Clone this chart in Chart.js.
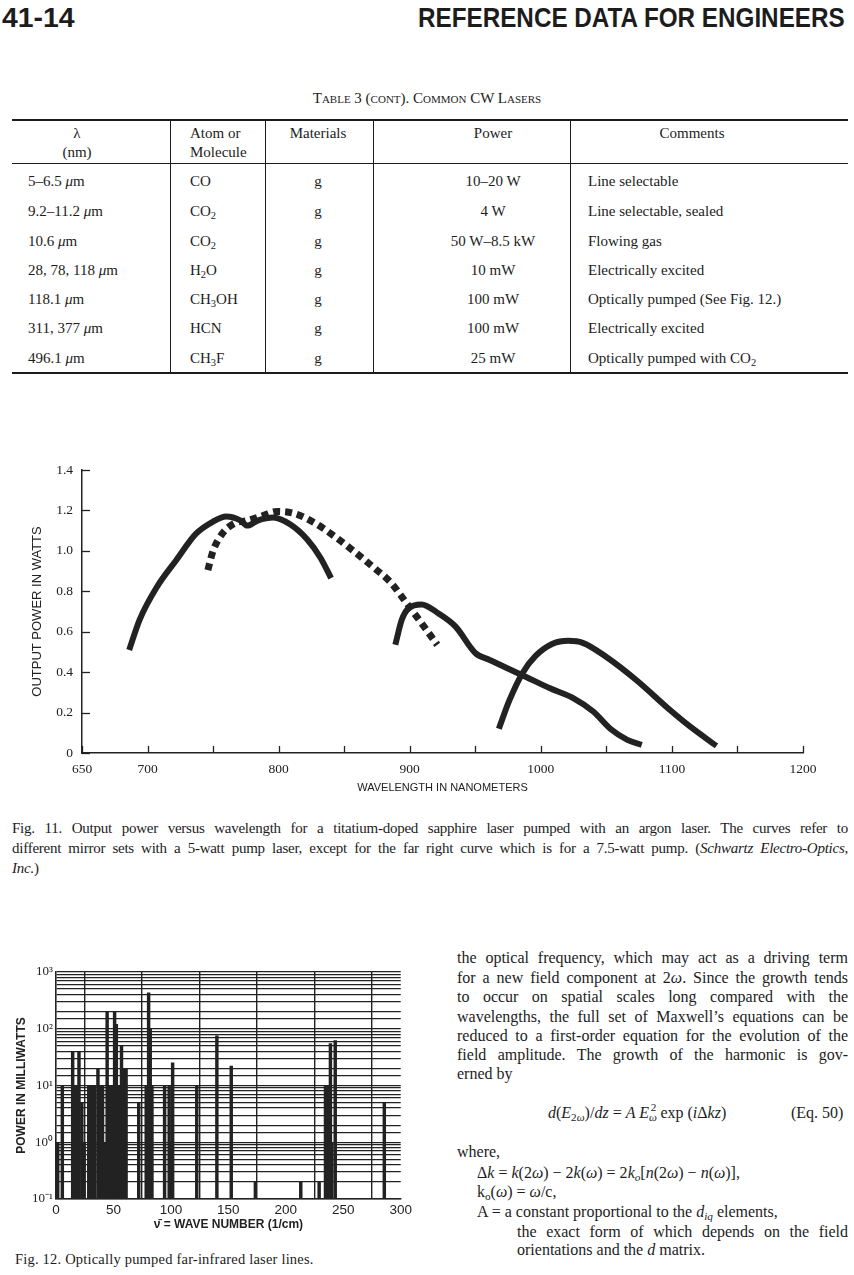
<!DOCTYPE html>
<html>
<head>
<meta charset="utf-8">
<script src="https://cdn.jsdelivr.net/npm/chart.js@4.4.0/dist/chart.umd.min.js"></script>
<style>
  html, body { margin: 0; padding: 0; background: #fff; }
  body { width: 854px; height: 1275px; position: relative; overflow: hidden; color: #1c1c1c; font-family: "Liberation Serif", "DejaVu Serif", serif; }
  .a { position: absolute; white-space: nowrap; }
  .hd { font-family: "Liberation Sans", Arial, sans-serif; font-weight: bold; font-size: 28px; line-height: 28px; top: 4px; }
  .rule { position: absolute; background: #1c1c1c; }
  .cell { position: absolute; font-size: 15px; line-height: 18px; white-space: nowrap; }
  .c { transform: translateX(-50%); }
  sub { font-size: 70%; line-height: 0; vertical-align: -0.3em; }
  .cap { position: absolute; left: 12px; width: 836px; font-size: 15px; letter-spacing: -0.25px; line-height: 20px; }
  .j { text-align: justify; text-align-last: justify; }
  .txt { position: absolute; left: 457px; width: 391px; font-size: 16px; line-height: 20px; white-space: nowrap; }
  .box { position: absolute; }
</style>
</head>
<body>

<div class="a hd" id="pg" style="left:2px;">41-14</div>
<div class="a hd" id="ttl" style="left:418px;">REFERENCE DATA FOR ENGINEERS</div>

<div class="a" style="left:0;width:854px;text-align:center;top:90px;font-size:15px;font-variant:small-caps;">Table 3 (cont). Common CW Lasers</div>

<div id="table"></div>

<div class="box" style="left:30px;top:440px;width:800px;height:359px;"><canvas id="fig11"></canvas></div>

<div class="cap j" style="top:818px;">Fig. 11. Output power versus wavelength for a titatium-doped sapphire laser pumped with an argon laser. The curves refer to</div>
<div class="cap j" style="top:838px;">different mirror sets with a 5-watt pump laser, except for the far right curve which is for a 7.5-watt pump. (<i>Schwartz Electro-Optics,</i></div>
<div class="cap" style="top:858px;"><i>Inc.</i>)</div>

<div class="box" style="left:12px;top:950px;width:403px;height:285px;"><canvas id="fig12"></canvas></div>

<div class="a" style="left:15px;top:1251px;font-size:14.5px;letter-spacing:0.2px;">Fig. 12. Optically pumped far-infrared laser lines.</div>

<div class="txt j" style="top:948px;">the optical frequency, which may act as a driving term</div>
<div class="txt j" style="top:968px;">for a new field component at 2<i>ω</i>. Since the growth tends</div>
<div class="txt j" style="top:987px;">to occur on spatial scales long compared with the</div>
<div class="txt j" style="top:1007px;">wavelengths, the full set of Maxwell’s equations can be</div>
<div class="txt j" style="top:1026px;">reduced to a first-order equation for the evolution of the</div>
<div class="txt j" style="top:1045px;">field amplitude. The growth of the harmonic is gov-</div>
<div class="txt" style="top:1064px;">erned by</div>
<div class="txt" style="top:1103px;left:548px;width:auto;"><i>d</i>(<i>E</i><sub>2<i>ω</i></sub>)/<i>dz</i> = <i>A E</i><sub><i>ω</i></sub><span style="margin-left:-6px;font-size:70%;vertical-align:0.6em;line-height:0;">2</span> exp (<i>i</i>Δ<i>kz</i>)</div>
<div class="txt" style="top:1103px;left:791px;width:auto;">(Eq. 50)</div>
<div class="txt" style="top:1142px;">where,</div>
<div class="txt" style="top:1163px;left:477px;width:auto;">Δ<i>k</i> = <i>k</i>(2<i>ω</i>) − 2<i>k</i>(<i>ω</i>) = 2<i>k<sub>o</sub></i>[<i>n</i>(2<i>ω</i>) − <i>n</i>(<i>ω</i>)],</div>
<div class="txt" style="top:1182px;left:477px;width:auto;">k<sub>o</sub>(<i>ω</i>) = <i>ω</i>/c,</div>
<div class="txt" style="top:1202px;left:477px;width:auto;">A = a constant proportional to the <i>d<sub>iq</sub></i> elements,</div>
<div class="txt j" style="top:1222px;left:517px;width:331px;">the exact form of which depends on the field</div>
<div class="txt" style="top:1240px;left:517px;width:auto;">orientations and the <i>d</i> matrix.</div>

<script>
// Table 3 (cont.)
var tblWavelength = ['5–6.5 <i>μ</i>m', '9.2–11.2 <i>μ</i>m', '10.6 <i>μ</i>m', '28, 78, 118 <i>μ</i>m', '118.1 <i>μ</i>m', '311, 377 <i>μ</i>m', '496.1 <i>μ</i>m'];
var tblMolecule = ['CO', 'CO<sub>2</sub>', 'CO<sub>2</sub>', 'H<sub>2</sub>O', 'CH<sub>3</sub>OH', 'HCN', 'CH<sub>3</sub>F'];
var tblMaterial = ['g', 'g', 'g', 'g', 'g', 'g', 'g'];
var tblPower = ['10–20 W', '4 W', '50 W–8.5 kW', '10 mW', '100 mW', '100 mW', '25 mW'];
var tblComment = ['Line selectable', 'Line selectable, sealed', 'Flowing gas', 'Electrically excited', 'Optically pumped (See Fig. 12.)', 'Electrically excited', 'Optically pumped with CO<sub>2</sub>'];

// Fig. 11 curves (wavelength nm, power W)
var mirrorAWl = [686, 694, 707, 722, 737, 750, 760, 771, 776, 784, 796, 809, 822, 832, 840];
var mirrorAPw = [0.51, 0.66, 0.82, 0.955, 1.085, 1.145, 1.17, 1.15, 1.125, 1.15, 1.165, 1.13, 1.055, 0.965, 0.865];
var mirrorBWl = [746, 750, 757, 766, 776, 786, 799, 812, 827, 843, 858, 873, 886, 896, 907, 921];
var mirrorBPw = [0.905, 1.0, 1.085, 1.135, 1.15, 1.17, 1.195, 1.185, 1.14, 1.07, 0.995, 0.915, 0.84, 0.755, 0.66, 0.535];
var mirrorCWl = [889, 894, 899, 909, 922, 935, 950, 961, 986, 1007, 1025, 1040, 1053, 1066, 1077];
var mirrorCPw = [0.535, 0.66, 0.715, 0.735, 0.69, 0.625, 0.495, 0.46, 0.385, 0.32, 0.27, 0.205, 0.12, 0.065, 0.04];
var pump75Wl = [968, 976, 986, 996, 1009, 1021, 1032, 1050, 1073, 1099, 1114, 1134];
var pump75Pw = [0.12, 0.26, 0.395, 0.48, 0.54, 0.555, 0.545, 0.475, 0.36, 0.21, 0.13, 0.035];

// Fig. 12 laser lines (wave number 1/cm, power mW)
var lineWaveNumber = [1.5, 5.5, 14.5, 15.5, 16.5, 17.5, 18.5, 20, 22.5, 24.5, 28.5, 29.5, 31.5, 33.5, 36.5, 38.5, 40.5, 42, 44.5, 46.5, 48.5, 51, 52.5, 53.5, 54.5, 55.5, 56.5, 57, 58, 59, 60, 61, 72, 78.5, 79.5, 80.6, 82, 83.5, 94.5, 98.5, 100, 101.5, 122.5, 140, 152.5, 173.5, 213, 229, 234.5, 236, 237.5, 238.8, 240, 243, 285.7];
var linePowerMw = [1, 10, 40, 10, 10, 10, 10, 40, 5, 1, 10, 10, 10, 10, 20, 10, 10, 1, 200, 10, 10, 200, 120, 10, 10, 10, 10, 50, 10, 20, 20, 20, 5, 10, 10, 430, 100, 10, 10, 10, 1, 25, 10, 75, 22, 0.2, 0.2, 0.2, 10, 10, 10, 55, 1, 62, 5];

var ink = '#222';

function buildTable() {
  var t = document.getElementById('table');
  var html = '';
  html += '<div class="rule" style="left:12px;top:119px;width:836px;height:2px;"></div>';
  html += '<div class="rule" style="left:12px;top:163px;width:836px;height:1px;"></div>';
  html += '<div class="rule" style="left:12px;top:372px;width:836px;height:2px;"></div>';
  [170, 265, 373, 570].forEach(function(x) {
    html += '<div class="rule" style="left:' + x + 'px;top:121px;width:1px;height:251px;"></div>';
  });
  html += '<div class="cell c" style="left:77px;top:124px;">λ</div>';
  html += '<div class="cell c" style="left:77px;top:143px;">(nm)</div>';
  html += '<div class="cell" style="left:190px;top:124px;">Atom or</div>';
  html += '<div class="cell" style="left:190px;top:143px;">Molecule</div>';
  html += '<div class="cell c" style="left:318px;top:124px;">Materials</div>';
  html += '<div class="cell c" style="left:493px;top:124px;">Power</div>';
  html += '<div class="cell c" style="left:692px;top:124px;">Comments</div>';
  var rowY = [181, 211, 241, 270, 299, 328, 358];
  for (var i = 0; i < rowY.length; i++) {
    var top = rowY[i] - 9;
    html += '<div class="cell" style="left:28px;top:' + top + 'px;">' + tblWavelength[i] + '</div>';
    html += '<div class="cell" style="left:190px;top:' + top + 'px;">' + tblMolecule[i] + '</div>';
    html += '<div class="cell c" style="left:318px;top:' + top + 'px;">' + tblMaterial[i] + '</div>';
    html += '<div class="cell c" style="left:493px;top:' + top + 'px;">' + tblPower[i] + '</div>';
    html += '<div class="cell" style="left:588px;top:' + top + 'px;">' + tblComment[i] + '</div>';
  }
  t.innerHTML = html;
}

function fitWidth(id, target) {
  var el = document.getElementById(id);
  el.style.transformOrigin = 'left top';
  el.style.transform = 'scaleX(' + (target / el.offsetWidth) + ')';
}

function toPoints(xs, ys) {
  var pts = [];
  for (var i = 0; i < xs.length; i++) pts.push({x: xs[i], y: ys[i]});
  return pts;
}

var inwardTicks = {
  id: 'inwardTicks',
  afterDraw: function(chart) {
    var ctx = chart.ctx, a = chart.chartArea;
    var xs = chart.scales.x, ys = chart.scales.y;
    ctx.save();
    ctx.strokeStyle = ink;
    ctx.lineWidth = 1.3;
    xs.ticks.forEach(function(t) {
      var px = Math.round(xs.getPixelForValue(t.value)) + 0.5;
      ctx.beginPath(); ctx.moveTo(px, a.bottom); ctx.lineTo(px, a.bottom - 7); ctx.stroke();
    });
    ys.ticks.forEach(function(t) {
      var py = Math.round(ys.getPixelForValue(t.value)) + 0.5;
      ctx.beginPath(); ctx.moveTo(a.left, py); ctx.lineTo(a.left + 8, py); ctx.stroke();
    });
    ctx.restore();
  }
};

function setFig11() {
  function curve(xs, ys, dashed) {
    return {
      data: toPoints(xs, ys),
      showLine: true,
      borderColor: ink,
      borderWidth: dashed ? 7 : 6,
      borderDash: dashed ? [7, 5] : [],
      borderCapStyle: 'butt',
      cubicInterpolationMode: 'monotone',
      pointRadius: 0,
      fill: false
    };
  }
  new Chart(document.getElementById('fig11'), {
    type: 'scatter',
    data: {
      datasets: [
        curve(mirrorAWl, mirrorAPw, false),
        curve(mirrorBWl, mirrorBPw, true),
        curve(mirrorCWl, mirrorCPw, false),
        curve(pump75Wl, pump75Pw, false)
      ]
    },
    options: {
      responsive: true,
      maintainAspectRatio: false,
      animation: false,
      layout: { padding: { top: 30, right: 27, left: 0, bottom: 0 } },
      plugins: { legend: { display: false }, tooltip: { enabled: false } },
      scales: {
        x: {
          type: 'linear', min: 650, max: 1200,
          grid: { display: true, drawOnChartArea: false, drawTicks: false },
          border: { display: true, color: ink, width: 1.5 },
          ticks: {
            stepSize: 50, padding: 8, color: ink,
            font: { family: 'Liberation Serif', size: 13.5 },
            maxRotation: 0, autoSkip: false,
            callback: function(v) { return (v % 100 === 0 || v === 650) ? String(v) : ''; }
          },
          title: { display: true, text: 'WAVELENGTH IN NANOMETERS', color: ink, font: { family: 'Liberation Sans', size: 11 }, padding: { top: 4, bottom: 4 } },
          afterFit: function(s) { s.height = 46; }
        },
        y: {
          min: 0, max: 1.4,
          grid: { display: true, drawOnChartArea: false, drawTicks: false },
          border: { display: true, color: ink, width: 1.5 },
          ticks: {
            stepSize: 0.2, padding: 9, color: ink,
            font: { family: 'Liberation Serif', size: 13.5 },
            callback: function(v) { return v === 0 ? '0' : v.toFixed(1); }
          },
          title: { display: true, text: 'OUTPUT POWER IN WATTS', color: ink, font: { family: 'Liberation Sans', size: 13 }, padding: { top: 0, bottom: 3 } },
          afterFit: function(s) { s.width = 52; }
        }
      }
    },
    plugins: [inwardTicks]
  });
}

function supLabel(v) {
  var e = Math.round(Math.log10(v));
  if (Math.abs(Math.log10(v) - e) > 1e-6) return '';
  var sup = { '-1': '⁻¹', '0': '⁰', '1': '¹', '2': '²', '3': '³' };
  return '10' + sup[String(e)];
}

function setFig12() {
  new Chart(document.getElementById('fig12'), {
    type: 'bar',
    data: {
      datasets: [{
        data: toPoints(lineWaveNumber, linePowerMw),
        backgroundColor: ink,
        borderWidth: 0,
        barThickness: 2.8
      }]
    },
    options: {
      responsive: true,
      maintainAspectRatio: false,
      animation: false,
      layout: { padding: { top: 22, right: 8, left: 0, bottom: 0 } },
      plugins: { legend: { display: false }, tooltip: { enabled: false } },
      scales: {
        x: {
          type: 'linear', min: 0, max: 300, offset: false,
          grid: { color: ink, lineWidth: 1.4, drawTicks: false },
          border: { display: true, color: ink, width: 1.6 },
          ticks: { stepSize: 50, padding: 3, color: ink, maxRotation: 0, font: { family: 'Liberation Sans', size: 13.5 } },
          title: { display: true, text: 'ν̄ = WAVE NUMBER (1/cm)', color: ink, font: { family: 'Liberation Sans', size: 12, weight: 'bold' }, padding: { top: 1, bottom: 3 } },
          afterFit: function(s) { s.height = 36; }
        },
        y: {
          type: 'logarithmic', min: 0.1, max: 1000,
          grid: { color: ink, lineWidth: 1.3, drawTicks: false },
          border: { display: true, color: ink, width: 1.6 },
          ticks: { autoSkip: false, padding: 3, color: ink, font: { family: 'Liberation Serif', size: 13 }, callback: supLabel },
          title: { display: true, text: 'POWER IN MILLIWATTS', color: ink, font: { family: 'Liberation Sans', size: 12, weight: 'bold' }, padding: { top: 2, bottom: 2 } },
          afterFit: function(s) { s.width = 44; }
        }
      }
    }
  });
}

buildTable();
fitWidth('pg', 73);
fitWidth('ttl', 427);
setFig11();
setFig12();
</script>
</body>
</html>
